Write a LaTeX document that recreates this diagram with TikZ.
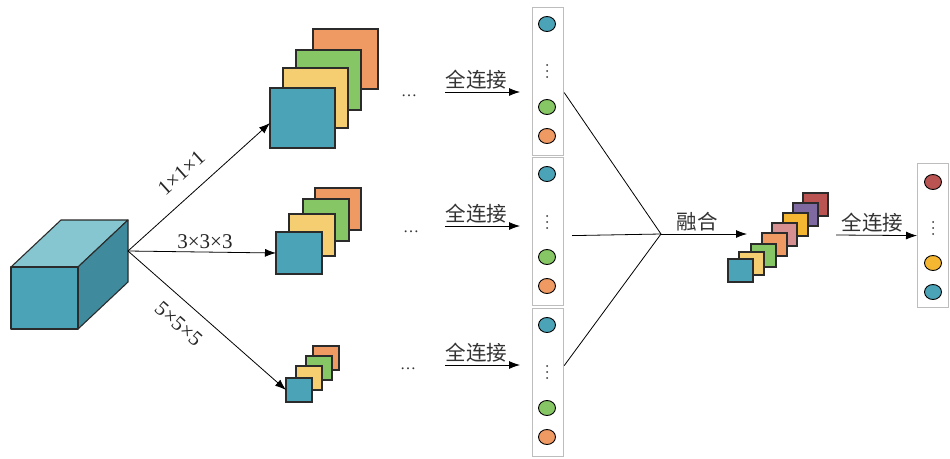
\documentclass[tikz,border=0pt]{standalone}
\usepackage{fontspec}
\setmainfont{Liberation Serif}
\newfontfamily\cjk{Noto Sans CJK SC}
\usetikzlibrary{arrows.meta,calc,shapes.geometric}

\definecolor{cBlue}{HTML}{4BA3B8}
\definecolor{cBlueTop}{HTML}{86C6D1}
\definecolor{cBlueSide}{HTML}{3F8A9C}
\definecolor{cYellow}{HTML}{F6CE72}
\definecolor{cGreen}{HTML}{86C664}
\definecolor{cOrange}{HTML}{EF9963}
\definecolor{cPink}{HTML}{D69092}
\definecolor{cGold}{HTML}{F5B731}
\definecolor{cPurple}{HTML}{7E6AA0}
\definecolor{cRed}{HTML}{B95452}
\definecolor{cEdge}{HTML}{2B2B2B}
\definecolor{cFrame}{HTML}{BDBDBD}

\tikzset{
  fmap/.style={draw=cEdge, line width=1.1pt, inner sep=0pt, outer sep=0pt,
               anchor=north west, fill=#1},
  bigmap/.style={minimum width=65pt, minimum height=60pt},
  midmap/.style={minimum width=46pt, minimum height=42pt},
  smallmap/.style={minimum width=26pt, minimum height=24pt},
  fusemap/.style={minimum width=25pt, minimum height=23pt},
  arr/.style={draw=black, line width=0.8pt, -{Latex[length=11pt,width=8pt]}},
  ln/.style={draw=black, line width=0.8pt},
  column/.style={draw=cFrame, line width=1.2pt, fill=white, inner sep=0pt,
                 minimum width=31pt, anchor=north west},
  neuron/.style={ellipse, draw=black, line width=0.9pt, fill=#1,
                 minimum width=17pt, minimum height=15pt, inner sep=0pt},
  vdot/.style={circle, fill=black!80, inner sep=0pt, minimum size=2pt},
  zh/.style={font=\cjk\fontsize{20.5}{22}\selectfont, text=black!80},
  dim/.style={font=\fontsize{21}{23}\selectfont, text=black!85, inner sep=2pt},
  ell/.style={font=\fontsize{16}{18}\selectfont, anchor=base, text=black!80},
}

\begin{document}
\begin{tikzpicture}[x=1pt, y=-1pt]
\useasboundingbox (0,0) rectangle (950,458);
\fill[white] (0,0) rectangle (950,458);

% input volume drawn as a cube
\begin{scope}[draw=cEdge, line width=1.1pt, line join=round]
  \filldraw[fill=cBlueTop]  (11,267) -- (61,220) -- (128,220) -- (78,267) -- cycle;
  \filldraw[fill=cBlueSide] (78,267) -- (128,220) -- (128,282) -- (78,329) -- cycle;
  \filldraw[fill=cBlue]     (11,267) rectangle (78,329);
\end{scope}
\coordinate (cube) at (128,251);

% branch 1x1x1
\node[fmap=cOrange, bigmap] (a4) at (313,29) {};
\node[fmap=cGreen,  bigmap] (a3) at (296,50) {};
\node[fmap=cYellow, bigmap] (a2) at (283,68) {};
\node[fmap=cBlue,   bigmap] (a1) at (270,88) {};

% branch 3x3x3
\node[fmap=cOrange, midmap] (b4) at (315,188) {};
\node[fmap=cGreen,  midmap] (b3) at (303,199) {};
\node[fmap=cYellow, midmap] (b2) at (289,214) {};
\node[fmap=cBlue,   midmap] (b1) at (276,232) {};

% branch 5x5x5
\node[fmap=cOrange, smallmap] (c4) at (313,346) {};
\node[fmap=cGreen,  smallmap] (c3) at (306,356) {};
\node[fmap=cYellow, smallmap] (c2) at (296,366) {};
\node[fmap=cBlue,   smallmap] (c1) at (286,378) {};

\draw[arr] (cube) -- node[dim, sloped, above=13pt, pos=0.48] {1×1×1} ([yshift=-5pt]a1.west);
\draw[arr] (cube) -- node[dim, above=1pt, pos=0.52] {3×3×3} (b1.west);
\draw[arr] (cube) -- node[dim, sloped, below=12pt, pos=0.41] {5×5×5} (c1.west);

% ellipses after each branch
\node[ell] (e1) at (409,96) {…};
\node[ell] (e2) at (411,232) {…};
\node[ell] (e3) at (408,369) {…};

% fully connected layers
\node[column, minimum height=148pt] (col1) at (532,7) {};
\node[column, minimum height=148pt] (col2) at (532,157) {};
\node[column, minimum height=148pt] (col3) at (532,308) {};

\node[neuron=cBlue]   (n11) at (547,24) {};
\node[neuron=cGreen]  (n12) at (547,107) {};
\node[neuron=cOrange] (n13) at (547,136) {};
\node[neuron=cBlue]   (n21) at (547,174) {};
\node[neuron=cGreen]  (n22) at (547,257) {};
\node[neuron=cOrange] (n23) at (547,286) {};
\node[neuron=cBlue]   (n31) at (547,325) {};
\node[neuron=cGreen]  (n32) at (547,408) {};
\node[neuron=cOrange] (n33) at (547,437) {};
\foreach \y in {65,71,77,216,222,228,366,372,378} \node[vdot] at (547,\y) {};

\coordinate (fc1s) at (445,92);  \coordinate (fc1e) at (520,92);
\coordinate (fc2s) at (445,226); \coordinate (fc2e) at (520,226);
\coordinate (fc3s) at (445,365); \coordinate (fc3e) at (520,365);
\draw[arr] (fc1s) -- node[zh, above=-1pt, pos=0.42] {全连接} (fc1e);
\draw[arr] (fc2s) -- node[zh, above=-1pt, pos=0.42] {全连接} (fc2e);
\draw[arr] (fc3s) -- node[zh, above=-1pt, pos=0.42] {全连接} (fc3e);

% fusion of the three branches
\coordinate (merge) at (661,234);
\draw[ln] ([yshift=-11pt]col1.east) -- (merge);
\draw[ln] ([xshift=8pt,yshift=-4pt]col2.east) -- (merge);
\draw[ln] ([yshift=17pt]col3.east) -- (merge);
\coordinate (fuseend) at (747,234);
\draw[arr] (merge) -- node[zh, above=-1pt, pos=0.42] {融合} (fuseend);

% fused feature stack
\node[fmap=cRed,    fusemap] (f8) at (803,193) {};
\node[fmap=cPurple, fusemap] (f7) at (793,203) {};
\node[fmap=cGold,   fusemap] (f6) at (783,213) {};
\node[fmap=cPink,   fusemap] (f5) at (772,223) {};
\node[fmap=cOrange, fusemap] (f4) at (762,233) {};
\node[fmap=cGreen,  fusemap] (f3) at (751,244) {};
\node[fmap=cYellow, fusemap] (f2) at (739,252) {};
\node[fmap=cBlue,   fusemap] (f1) at (728,259) {};

% output layer
\node[column, minimum height=144pt] (col4) at (917,163) {};
\node[neuron=cRed]  (n41) at (933,182) {};
\node[neuron=cGold] (n42) at (933,263) {};
\node[neuron=cBlue] (n43) at (933,292) {};
\foreach \y in {222,228,234} \node[vdot] at (933,\y) {};

\coordinate (outs) at (836,235);
\draw[arr] (outs) -- node[zh, above=-1pt, pos=0.45] {全连接} (col4.west);
\end{tikzpicture}
\end{document}
